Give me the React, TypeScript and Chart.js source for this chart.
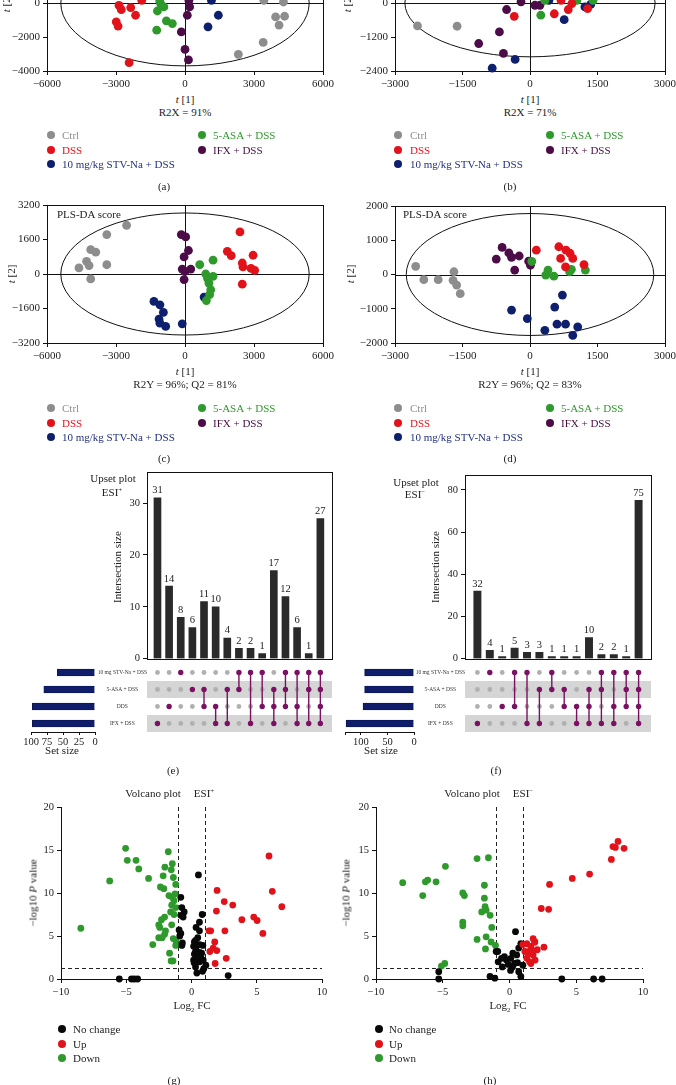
import React, { useEffect, useRef } from "react";
import { Chart, registerables } from "chart.js";

Chart.register(...registerables);

const FONT = '"Liberation Serif", "DejaVu Serif", "Times New Roman", serif';
Chart.defaults.font.family = FONT;
Chart.defaults.color = "#222";

// ---------- colours ----------
const COL_CTRL = "#8d8d8d";
const COL_DSS = "#e2121a";
const COL_5ASA = "#2f9a2c";
const COL_IFX = "#4b0c48";
const COL_STV = "#0e1f6e";
const TXT_STV = "#22317f";
const COL_NC = "#080808";
const PURPLE_DOT = "#7a1162";
const GRAY_DOT = "#b0b0b0";
const BAND = "#d5d5d5";
const NAVY_BAR = "#0f1d6a";
const BAR = "#2a2a2a";

// ---------- (a) PCA score, ESI+ ----------
const A_CTRL = [[3430, 150], [4280, 60], [3940, -820], [4330, -780], [4090, -1300], [3400, -2320], [2320, -3020]];
const A_DSS = [[-1880, 150], [-2870, -140], [-2770, -390], [-2360, -270], [-2150, -720], [-2990, -1110], [-2910, -1360], [-2430, -3510]];
const A_5ASA = [[-1060, -40], [-920, -230], [-1200, -470], [-810, -1050], [-550, -1210], [-1230, -1600], [-1100, 120]];
const A_IFX = [[170, 150], [200, -230], [100, -720], [-160, -1700], [0, -2730], [150, -3350]];
const A_STV = [[1150, 150], [1450, -720], [1000, -1400]];

// ---------- (b) PCA score, ESI- ----------
const B_CTRL = [[-2500, -810], [-1620, -820]];
const B_DSS = [[-350, -470], [540, -380], [690, 90], [850, -230], [930, -20], [1280, -200]];
const B_5ASA = [[240, -430], [330, 90], [1040, 90], [1400, 90]];
const B_IFX = [[-200, 40], [-520, -230], [-680, -1020], [-1140, -1430], [-590, -1780], [110, -80], [220, -80]];
const B_STV = [[760, -590], [420, 90], [1220, -140], [1350, -50], [-330, -1990], [-840, -2300]];

// ---------- (c) PLS-DA score, ESI+ ----------
const C_CTRL = [[-2540, 2260], [-3400, 1830], [-4100, 1130], [-3880, 1010], [-4280, 590], [-4170, 390], [-4610, 280], [-3400, 430], [-4100, -230]];
const C_DSS = [[2390, 1950], [1840, 1050], [2010, 850], [2960, 870], [2490, 510], [2520, 330], [3030, 170], [2870, 260], [2490, -470]];
const C_5ASA = [[640, 430], [1220, 640], [900, 0], [1220, -110], [1040, -420], [1120, -730], [1070, -960], [930, -1230], [980, -200]];
const C_IFX = [[-160, 1830], [30, 1720], [150, 1090], [-40, 790], [-120, 230], [0, 120], [250, 230], [-40, -260]];
const C_STV = [[-1350, -1270], [-1090, -1430], [-940, -1780], [-1130, -2090], [-1090, -2280], [-840, -2430], [-120, -2310], [830, -1070]];

// ---------- (d) PLS-DA score, ESI- ----------
const D_CTRL = [[-2540, 240], [-2360, -150], [-2040, -150], [-1690, 80], [-1710, -170], [-1630, -310], [-1550, -560]];
const D_DSS = [[140, 710], [640, 810], [800, 710], [890, 620], [680, 470], [950, 470], [1200, 290], [790, 220]];
const D_5ASA = [[400, 130], [350, -20], [530, -50], [920, 150], [880, 80], [1230, 130], [40, 380]];
const D_IFX = [[-750, 450], [-620, 790], [-470, 630], [-410, 500], [-240, 540], [-340, 130], [-30, 390], [10, 270]];
const D_STV = [[720, -600], [550, -950], [-410, -1040], [-60, -1290], [330, -1630], [600, -1450], [790, -1450], [1060, -1530], [950, -1780]];

// ---------- upset plots ----------
const ROW_LABELS = ["10 mg STV-Na + DSS", "5-ASA + DSS", "DDS", "IFX + DSS"];
const E_COUNTS = [31, 14, 8, 6, 11, 10, 4, 2, 2, 1, 17, 12, 6, 1, 27];
const E_MEMBERS = [[4], [3], [1], [2], [2, 3], [3, 4], [2, 4], [1, 2], [1, 4], [1, 3], [2, 3, 4], [1, 2, 3], [1, 3, 4], [1, 2, 4], [1, 2, 3, 4]];
const E_SET_SIZES = [59, 80, 98, 98];
const E_SET_TICKS = [0, 25, 50, 75, 100];
const F_COUNTS = [32, 4, 1, 5, 3, 3, 1, 1, 1, 10, 2, 2, 1, 75];
const F_MEMBERS = [[4], [1], [3], [1, 3], [1, 4], [2, 4], [1, 2], [2, 3], [3, 4], [2, 3, 4], [1, 2, 4], [1, 3, 4], [1, 2, 3], [1, 2, 3, 4]];
const F_SET_SIZES = [93, 93, 96, 128];
const F_SET_TICKS = [0, 50, 100, 130];

// ---------- volcano plots ----------
const FC_CUT = 1;
const P_CUT = 1.301;
const G_DOWN = [[-5.05, 15.2], [-4.92, 13.8], [-4.25, 13.8], [-4.04, 12.8], [-6.27, 11.4], [-3.29, 11.7], [-1.78, 14.8], [-1.47, 13.4], [-2.04, 13.0], [-1.55, 12.7], [-2.17, 12.0], [-1.39, 11.8], [-1.21, 11.0], [-2.38, 10.7], [-2.12, 10.5], [-1.26, 9.9], [-1.73, 9.7], [-1.47, 9.5], [-1.34, 9.1], [-1.52, 8.6], [-1.21, 8.3], [-1.6, 7.8], [-1.34, 7.5], [-2.06, 7.2], [-2.3, 6.9], [-2.51, 6.3], [-2.43, 6.0], [-1.99, 5.6], [-2.06, 5.2], [-2.51, 4.8], [-2.25, 4.8], [-1.52, 6.3], [-1.21, 4.5], [-1.21, 3.9], [-2.97, 4.0], [-8.48, 5.9], [-1.68, 3.0], [-1.42, 2.1], [-1.56, 2.1], [-1.4, 4.7]];
const G_UP = [[5.94, 14.3], [6.19, 10.2], [6.92, 8.4], [1.96, 10.3], [2.51, 9.0], [3.16, 8.6], [1.91, 7.9], [3.86, 6.9], [4.77, 7.2], [5.03, 6.8], [5.47, 5.3], [1.34, 5.6], [1.47, 5.6], [2.56, 5.6], [1.78, 4.3], [1.94, 3.3], [1.66, 3.6], [1.41, 3.2], [1.81, 1.8], [2.66, 2.4]];
const G_NC = [[0.53, 12.1], [-0.82, 9.5], [-0.74, 8.3], [-0.56, 7.8], [-0.82, 7.4], [-0.64, 7.2], [-0.95, 5.7], [-0.82, 5.3], [-0.74, 3.9], [0.82, 7.5], [0.61, 6.6], [0.35, 6.0], [0.61, 5.6], [0.48, 4.8], [0.22, 4.3], [0.35, 3.7], [0.87, 3.9], [0.61, 3.1], [0.22, 2.9], [0.31, 4.5], [0.16, 3.8], [0.63, 4.0], [0.31, 3.2], [0.78, 3.0], [0.16, 2.2], [0.63, 2.0], [0.31, 1.4], [0.94, 1.2], [0.41, 0.7], [1.1, 1.6], [0.72, 2.5], [0.5, 2.6], [0.9, 2.2], [0.2, 1.9], [0.85, 0.9], [2.81, 0.4], [-5.53, 0], [-4.6, 0], [-4.38, 0], [-4.13, 0], [-0.9, 5.0], [-0.7, 4.2]];
const H_DOWN = [[-8.0, 11.2], [-6.3, 11.3], [-6.13, 11.5], [-5.5, 11.3], [-4.8, 13.1], [-6.5, 9.7], [-3.5, 10.0], [-3.38, 9.7], [-2.43, 14.0], [-1.58, 14.1], [-1.88, 10.9], [-1.88, 9.4], [-1.83, 8.4], [-1.75, 8.0], [-2.08, 7.8], [-1.45, 7.4], [-3.5, 6.6], [-3.5, 6.2], [-1.33, 6.0], [-2.43, 4.6], [-1.75, 4.9], [-1.38, 4.3], [-1.05, 3.9], [-1.8, 3.5], [-4.85, 1.8], [-5.1, 1.5]];
const H_UP = [[8.13, 16.0], [7.75, 15.4], [7.93, 15.3], [8.58, 15.2], [7.63, 13.9], [6.0, 12.2], [4.7, 11.7], [3.0, 11.0], [2.38, 8.2], [2.93, 8.1], [2.58, 3.7], [1.0, 4.0], [1.88, 4.3], [1.3, 4.1], [1.6, 3.8], [1.9, 4.3], [1.46, 3.2], [1.77, 2.8], [1.3, 2.4], [1.92, 2.2], [1.6, 1.8], [1.15, 3.2], [2.08, 3.4], [1.77, 4.7], [1.4, 2.9], [1.7, 3.3], [1.5, 2.0]];
const H_NC = [[0.45, 5.5], [-0.88, 3.2], [0.25, 3.0], [-1.0, 3.2], [-0.85, 2.0], [-0.54, 1.4], [0.08, 1.0], [0.38, 1.8], [0.54, 2.8], [0.69, 3.6], [0.85, 4.1], [-0.23, 2.2], [0.23, 1.4], [0.69, 0.85], [0.85, 0.3], [-1.46, 0.3], [-1.1, 0.1], [-5.3, 0.85], [-5.3, 0], [3.92, 0], [6.3, 0], [6.94, 0], [-0.38, 2.6], [1.0, 1.6], [0.1, 2.4], [-0.6, 2.4], [0.6, 1.9], [-0.1, 1.7]];

// ---------- helpers ----------
const fmt = (v: number) => (v < 0 ? "\u2212" + Math.abs(v) : String(v));
const pts = (arr: number[][]) => arr.map(([x, y]) => ({ x, y }));

function linAxis(min: number, max: number, step: number, fit: { w?: number; h?: number }, fontSize: number, extra: any = {}) {
  const tickValues: number[] | undefined = extra.tickValues;
  return {
    type: "linear",
    min,
    max,
    reverse: !!extra.reverse,
    offset: false,
    position: extra.position,
    ticks: {
      stepSize: step,
      autoSkip: false,
      maxRotation: 0,
      minRotation: 0,
      padding: extra.pad ?? 3,
      font: { size: fontSize },
      color: "#222",
      callback: (v: number) => (Math.abs(v / step - Math.round(v / step)) < 1e-6 ? fmt(v) : ""),
    },
    grid: { drawOnChartArea: false, drawTicks: true, tickLength: extra.tickLen ?? 4, color: "#111", lineWidth: 1 },
    border: { display: true, color: "#111", width: 1 },
    afterBuildTicks: (s: any) => {
      if (tickValues) s.ticks = tickValues.map((v) => ({ value: v }));
      else s.ticks = s.ticks.filter((t: any) => Math.abs(t.value / step - Math.round(t.value / step)) < 1e-6);
    },
    afterFit: (s: any) => {
      if (fit.h !== undefined) s.height = fit.h;
      if (fit.w !== undefined) s.width = fit.w;
    },
  };
}

const baseOpts = (padding: any) => ({
  responsive: false,
  maintainAspectRatio: false,
  animation: false,
  devicePixelRatio: 1,
  events: [],
  layout: { padding },
  plugins: { legend: { display: false }, tooltip: { enabled: false }, title: { display: false } },
});

const crisp = (v: number) => Math.round(v) + 0.5;

const framePlugin = {
  id: "frame",
  beforeDatasetsDraw(chart: any) {
    const { ctx, chartArea: a } = chart;
    ctx.save();
    ctx.strokeStyle = "#111";
    ctx.lineWidth = 1;
    ctx.strokeRect(crisp(a.left), crisp(a.top), Math.round(a.right) - Math.round(a.left), Math.round(a.bottom) - Math.round(a.top));
    ctx.restore();
  },
};

const scoreDeco = (rx: number, ry: number) => ({
  id: "scoreDeco",
  beforeDatasetsDraw(chart: any) {
    const { ctx, chartArea: a, scales } = chart;
    const x = scales.x;
    const y = scales.y;
    const cx = x.getPixelForValue(0);
    const cy = y.getPixelForValue(0);
    ctx.save();
    ctx.strokeStyle = "#111";
    ctx.lineWidth = 1;
    ctx.beginPath();
    ctx.moveTo(crisp(cx), a.top);
    ctx.lineTo(crisp(cx), a.bottom);
    ctx.moveTo(a.left, crisp(cy));
    ctx.lineTo(a.right, crisp(cy));
    ctx.stroke();
    ctx.beginPath();
    ctx.ellipse(cx, cy, x.getPixelForValue(rx) - cx, cy - y.getPixelForValue(ry), 0, 0, Math.PI * 2);
    ctx.stroke();
    ctx.restore();
  },
});

function scoreConfig(groups: [number[][], string][], xr: number[], yr: number[], ell: number[], fit: { w: number; h: number }, padding: any) {
  return {
    type: "scatter",
    data: {
      datasets: groups.map(([d, c]) => ({
        data: pts(d),
        backgroundColor: c,
        borderColor: c,
        borderWidth: 0,
        pointRadius: 4.4,
        clip: false,
      })),
    },
    options: {
      ...baseOpts(padding),
      scales: {
        x: linAxis(xr[0], xr[1], xr[2], { h: fit.h }, 11),
        y: linAxis(yr[0], yr[1], yr[2], { w: fit.w }, 11),
      },
    },
    plugins: [framePlugin, scoreDeco(ell[0], ell[1])],
  };
}

const volcanoDeco = {
  id: "volcanoDeco",
  beforeDatasetsDraw(chart: any) {
    const { ctx, chartArea: a, scales } = chart;
    const x = scales.x;
    const y = scales.y;
    ctx.save();
    ctx.strokeStyle = "#222";
    ctx.lineWidth = 1;
    ctx.setLineDash([4, 3]);
    for (const v of [-FC_CUT, FC_CUT]) {
      const px = crisp(x.getPixelForValue(v));
      ctx.beginPath();
      ctx.moveTo(px, y.getPixelForValue(0));
      ctx.lineTo(px, y.getPixelForValue(20));
      ctx.stroke();
    }
    const py = crisp(y.getPixelForValue(P_CUT));
    ctx.beginPath();
    ctx.moveTo(a.left, py);
    ctx.lineTo(a.right, py);
    ctx.stroke();
    ctx.restore();
  },
};

function volcanoConfig(nc: number[][], up: number[][], down: number[][], fit: { w: number; h: number }, padding: any) {
  const ds = (d: number[][], c: string) => ({ data: pts(d), backgroundColor: c, borderColor: c, borderWidth: 0, pointRadius: 3.4, clip: false });
  return {
    type: "scatter",
    data: { datasets: [ds(up, COL_DSS), ds(nc, COL_NC), ds(down, COL_5ASA)] },
    options: {
      ...baseOpts(padding),
      scales: {
        x: linAxis(-10, 10, 5, { h: fit.h }, 10.5),
        y: linAxis(0, 20, 5, { w: fit.w }, 10.5),
      },
    },
    plugins: [volcanoDeco],
  };
}

const barLabels = {
  id: "barLabels",
  afterDatasetsDraw(chart: any) {
    const { ctx } = chart;
    const meta = chart.getDatasetMeta(0);
    const data = chart.data.datasets[0].data;
    ctx.save();
    ctx.font = `10.5px ${FONT}`;
    ctx.fillStyle = "#222";
    ctx.textAlign = "center";
    ctx.textBaseline = "bottom";
    meta.data.forEach((el: any, i: number) => {
      ctx.fillText(String(data[i].y), el.x, el.y - 2);
    });
    ctx.restore();
  },
};

function upsetBarConfig(counts: number[], xr: number[], ymax: number, ystep: number, w: number, padding: any, barW: number) {
  return {
    type: "bar",
    data: { datasets: [{ data: counts.map((v, i) => ({ x: i, y: v })), backgroundColor: BAR, barThickness: barW }] },
    options: {
      ...baseOpts(padding),
      scales: {
        x: { type: "linear", min: xr[0], max: xr[1], offset: false, display: false },
        y: linAxis(0, ymax, ystep, { w }, 10.5),
      },
    },
    plugins: [framePlugin, barLabels],
  };
}

const bandPlugin = {
  id: "bands",
  beforeDatasetsDraw(chart: any) {
    const { ctx, chartArea: a, scales } = chart;
    const y = scales.y;
    ctx.save();
    ctx.fillStyle = BAND;
    for (const r of [2, 4]) {
      const y1 = y.getPixelForValue(r - 0.5);
      const y2 = y.getPixelForValue(r + 0.5);
      ctx.fillRect(a.left, Math.min(y1, y2), a.width, Math.abs(y2 - y1));
    }
    ctx.restore();
  },
};

function matrixConfig(members: number[][], xr: number[], w: number, padding: any) {
  const gray: { x: number; y: number }[] = [];
  members.forEach((m, c) => {
    for (let r = 1; r <= 4; r++) if (!m.includes(r)) gray.push({ x: c, y: r });
  });
  const cols = members.map((m, c) => ({
    data: m.map((r) => ({ x: c, y: r })),
    showLine: true,
    borderColor: PURPLE_DOT,
    borderWidth: 1.4,
    backgroundColor: PURPLE_DOT,
    pointBackgroundColor: PURPLE_DOT,
    pointBorderWidth: 0,
    pointRadius: 2.7,
    clip: false,
  }));
  return {
    type: "scatter",
    data: {
      datasets: [
        ...cols,
        { data: gray, showLine: false, backgroundColor: GRAY_DOT, pointBackgroundColor: GRAY_DOT, pointBorderWidth: 0, borderWidth: 0, pointRadius: 2.4, clip: false },
      ],
    },
    options: {
      ...baseOpts(padding),
      scales: {
        x: { type: "linear", min: xr[0], max: xr[1], offset: false, display: false },
        y: {
          type: "linear",
          min: 0.5,
          max: 4.5,
          reverse: true,
          offset: false,
          grid: { display: false, drawTicks: false },
          border: { display: false },
          ticks: {
            crossAlign: "center",
            padding: 0,
            autoSkip: false,
            font: { size: 5.5 },
            color: "#333",
            callback: (v: number) => ROW_LABELS[v - 1] ?? "",
          },
          afterBuildTicks: (s: any) => {
            s.ticks = [1, 2, 3, 4].map((v) => ({ value: v }));
          },
          afterFit: (s: any) => {
            s.width = w;
          },
        },
      },
    },
    plugins: [bandPlugin],
  };
}

function setSizeConfig(sizes: number[], xmax: number, step: number, tickValues: number[], h: number, padding: any) {
  return {
    type: "bar",
    data: {
      labels: ROW_LABELS,
      datasets: [{ data: sizes, backgroundColor: NAVY_BAR, borderColor: "#0a1240", borderWidth: 0.6, barThickness: 7 }],
    },
    options: {
      ...baseOpts(padding),
      indexAxis: "y",
      scales: {
        x: linAxis(0, xmax, step, { h }, 10.5, { reverse: true, tickValues, tickLen: 3, pad: 1, position: "bottom" }),
        y: { type: "category", display: false, offset: true },
      },
    },
  };
}

// ---------- React pieces ----------
function ChartCanvas({ left, top, width, height, make }: any) {
  const ref = useRef<HTMLCanvasElement | null>(null);
  useEffect(() => {
    const chart = new Chart(ref.current as HTMLCanvasElement, make());
    return () => chart.destroy();
  }, []);
  return <canvas ref={ref} width={width} height={height} style={{ position: "absolute", left, top, width, height }} />;
}

function T({ x, y, children, size = 11, color = "#222", align = "center", rotate = 0 }: any) {
  const tx = align === "center" ? "-50%" : align === "right" ? "-100%" : "0";
  return (
    <div
      style={{
        position: "absolute",
        left: x,
        top: y,
        transform: `translate(${tx}, -50%)${rotate ? ` rotate(${rotate}deg)` : ""}`,
        fontSize: size,
        lineHeight: 1,
        color,
        whiteSpace: "nowrap",
        fontFamily: FONT,
      }}
    >
      {children}
    </div>
  );
}

function LegendItem({ x, y, tx, color, textColor, children }: any) {
  return (
    <>
      <div style={{ position: "absolute", left: x - 4, top: y - 4, width: 8, height: 8, borderRadius: "50%", background: color }} />
      <T x={tx} y={y} align="left" color={textColor}>
        {children}
      </T>
    </>
  );
}

function GroupLegend({ x1, t1, x2, t2, rows }: any) {
  return (
    <>
      <LegendItem x={x1} tx={t1} y={rows[0]} color={COL_CTRL} textColor={COL_CTRL}>Ctrl</LegendItem>
      <LegendItem x={x1} tx={t1} y={rows[1]} color={COL_DSS} textColor={COL_DSS}>DSS</LegendItem>
      <LegendItem x={x1} tx={t1} y={rows[2]} color={COL_STV} textColor={TXT_STV}>10 mg/kg STV-Na + DSS</LegendItem>
      <LegendItem x={x2} tx={t2} y={rows[0]} color={COL_5ASA} textColor={COL_5ASA}>5-ASA + DSS</LegendItem>
      <LegendItem x={x2} tx={t2} y={rows[1]} color={COL_IFX} textColor={COL_IFX}>IFX + DSS</LegendItem>
    </>
  );
}

function VolcanoLegend({ x, tx, rows }: any) {
  return (
    <>
      <LegendItem x={x} tx={tx} y={rows[0]} color={COL_NC} textColor="#222">No change</LegendItem>
      <LegendItem x={x} tx={tx} y={rows[1]} color={COL_DSS} textColor="#222">Up</LegendItem>
      <LegendItem x={x} tx={tx} y={rows[2]} color={COL_5ASA} textColor="#222">Down</LegendItem>
    </>
  );
}

const sup = (s: string) => <span style={{ fontSize: "0.62em", verticalAlign: "0.55em" }}>{s}</span>;
const ti = <i>t</i>;

export default function App() {
  const groupsA: [number[][], string][] = [[A_CTRL, COL_CTRL], [A_DSS, COL_DSS], [A_5ASA, COL_5ASA], [A_IFX, COL_IFX], [A_STV, COL_STV]];
  const groupsB: [number[][], string][] = [[B_CTRL, COL_CTRL], [B_DSS, COL_DSS], [B_5ASA, COL_5ASA], [B_IFX, COL_IFX], [B_STV, COL_STV]];
  const groupsC: [number[][], string][] = [[C_CTRL, COL_CTRL], [C_DSS, COL_DSS], [C_5ASA, COL_5ASA], [C_IFX, COL_IFX], [C_STV, COL_STV]];
  const groupsD: [number[][], string][] = [[D_CTRL, COL_CTRL], [D_DSS, COL_DSS], [D_5ASA, COL_5ASA], [D_IFX, COL_IFX], [D_STV, COL_STV]];

  return (
    <div style={{ position: "absolute", left: 0, top: 0, width: 676, height: 1085, overflow: "hidden", background: "#fff", fontFamily: FONT }}>
      {/* (a) */}
      <ChartCanvas left={0} top={-80} width={338} height={172}
        make={() => scoreConfig(groupsA, [-6000, 6000, 3000], [-4000, 4000, 2000], [5400, 3700], { w: 47, h: 21 }, { left: 0, right: 15, top: 15, bottom: 0 })} />
      <T x={6} y={3} rotate={-90}>{ti} [2]</T>
      <T x={185} y={99}>{ti} [1]</T>
      <T x={185} y={112}>R2X = 91%</T>
      <GroupLegend x1={51} t1={62} x2={202} t2={213} rows={[135, 150, 164]} />
      <T x={164} y={186}>(a)</T>

      {/* (b) */}
      <ChartCanvas left={338} top={-80} width={345} height={172}
        make={() => scoreConfig(groupsB, [-3000, 3000, 1500], [-2400, 2400, 1200], [2780, 1900], { w: 57, h: 21 }, { left: 0, right: 18, top: 15, bottom: 0 })} />
      <T x={347} y={3} rotate={-90}>{ti} [2]</T>
      <T x={530} y={99}>{ti} [1]</T>
      <T x={530} y={112}>R2X = 71%</T>
      <GroupLegend x1={398} t1={410} x2={550} t2={561} rows={[135, 150, 164]} />
      <T x={510} y={186}>(b)</T>

      {/* (c) */}
      <ChartCanvas left={0} top={190} width={338} height={175}
        make={() => scoreConfig(groupsC, [-6000, 6000, 3000], [-3200, 3200, 1600], [5400, 2830], { w: 47, h: 22 }, { left: 0, right: 15, top: 15, bottom: 0 })} />
      <T x={57} y={214} align="left">PLS-DA score</T>
      <T x={11} y={274} rotate={-90}>{ti} [2]</T>
      <T x={185} y={371}>{ti} [1]</T>
      <T x={185} y={384}>R2Y = 96%; Q2 = 81%</T>
      <GroupLegend x1={51} t1={62} x2={202} t2={213} rows={[408, 422.5, 437]} />
      <T x={164} y={458}>(c)</T>

      {/* (d) */}
      <ChartCanvas left={338} top={190} width={345} height={175}
        make={() => scoreConfig(groupsD, [-3000, 3000, 1500], [-2000, 2000, 1000], [2750, 1780], { w: 57, h: 22 }, { left: 0, right: 18, top: 16, bottom: 0 })} />
      <T x={403} y={214} align="left">PLS-DA score</T>
      <T x={350} y={274} rotate={-90}>{ti} [2]</T>
      <T x={530} y={371}>{ti} [1]</T>
      <T x={530} y={384}>R2Y = 96%; Q2 = 83%</T>
      <GroupLegend x1={398} t1={410} x2={550} t2={561} rows={[408, 422.5, 437]} />
      <T x={510} y={458}>(d)</T>

      {/* (e) upset ESI+ */}
      <ChartCanvas left={115} top={462} width={223} height={206}
        make={() => upsetBarConfig(E_COUNTS, [-0.9, 15], 36, 10, 32, { left: 0, right: 6, top: 10, bottom: 7 }, 7)} />
      <ChartCanvas left={95} top={660} width={243} height={76}
        make={() => matrixConfig(E_MEMBERS, [-0.9, 15], 52, { left: 0, right: 6, top: 4, bottom: 4 })} />
      <ChartCanvas left={10} top={655} width={100} height={100}
        make={() => setSizeConfig(E_SET_SIZES, 100, 25, E_SET_TICKS, 18, { left: 21, right: 15, top: 9, bottom: 5 })} />
      <T x={113} y={478}>Upset plot</T>
      <T x={112} y={492}>ESI{sup("+")}</T>
      <T x={117} y={567} rotate={-90}>Intersection size</T>
      <T x={62} y={750}>Set size</T>
      <T x={173} y={770}>(e)</T>

      {/* (f) upset ESI- */}
      <ChartCanvas left={420} top={462} width={256} height={206}
        make={() => upsetBarConfig(F_COUNTS, [-1, 14], 87, 20, 45, { left: 0, right: 25, top: 13, bottom: 7 }, 7.3)} />
      <ChartCanvas left={410} top={660} width={266} height={76}
        make={() => matrixConfig(F_MEMBERS, [-1, 14], 55, { left: 0, right: 25, top: 4, bottom: 4 })} />
      <ChartCanvas left={335} top={655} width={90} height={100}
        make={() => setSizeConfig(F_SET_SIZES, 130, 50, F_SET_TICKS, 18, { left: 10, right: 11, top: 9, bottom: 5 })} />
      <T x={416} y={482}>Upset plot</T>
      <T x={415} y={494}>ESI{sup("\u2212")}</T>
      <T x={435} y={567} rotate={-90}>Intersection size</T>
      <T x={381} y={750}>Set size</T>
      <T x={496} y={770}>(f)</T>

      {/* (g) volcano ESI+ */}
      <ChartCanvas left={0} top={797} width={338} height={205}
        make={() => volcanoConfig(G_NC, G_UP, G_DOWN, { w: 61, h: 23 }, { left: 0, right: 16, top: 10, bottom: 0 })} />
      <T x={153} y={793}>Volcano plot</T>
      <T x={204} y={793}>ESI{sup("+")}</T>
      <T x={33} y={893} rotate={-90}>{"\u2212"}log10 <i>P</i> value</T>
      <T x={192} y={1007}>Log<sub style={{ fontSize: "0.6em" }}>2</sub> FC</T>
      <VolcanoLegend x={62} tx={73} rows={[1029, 1043.5, 1058]} />
      <T x={174} y={1080}>(g)</T>

      {/* (h) volcano ESI- */}
      <ChartCanvas left={338} top={797} width={338} height={205}
        make={() => volcanoConfig(H_NC, H_UP, H_DOWN, { w: 38, h: 23 }, { left: 0, right: 33, top: 10, bottom: 0 })} />
      <T x={472} y={793}>Volcano plot</T>
      <T x={523} y={793}>ESI{sup("\u2212")}</T>
      <T x={346} y={893} rotate={-90}>{"\u2212"}log10 <i>P</i> value</T>
      <T x={508} y={1007}>Log<sub style={{ fontSize: "0.6em" }}>2</sub> FC</T>
      <VolcanoLegend x={379} tx={389} rows={[1029, 1043.5, 1058]} />
      <T x={490} y={1080}>(h)</T>
    </div>
  );
}
